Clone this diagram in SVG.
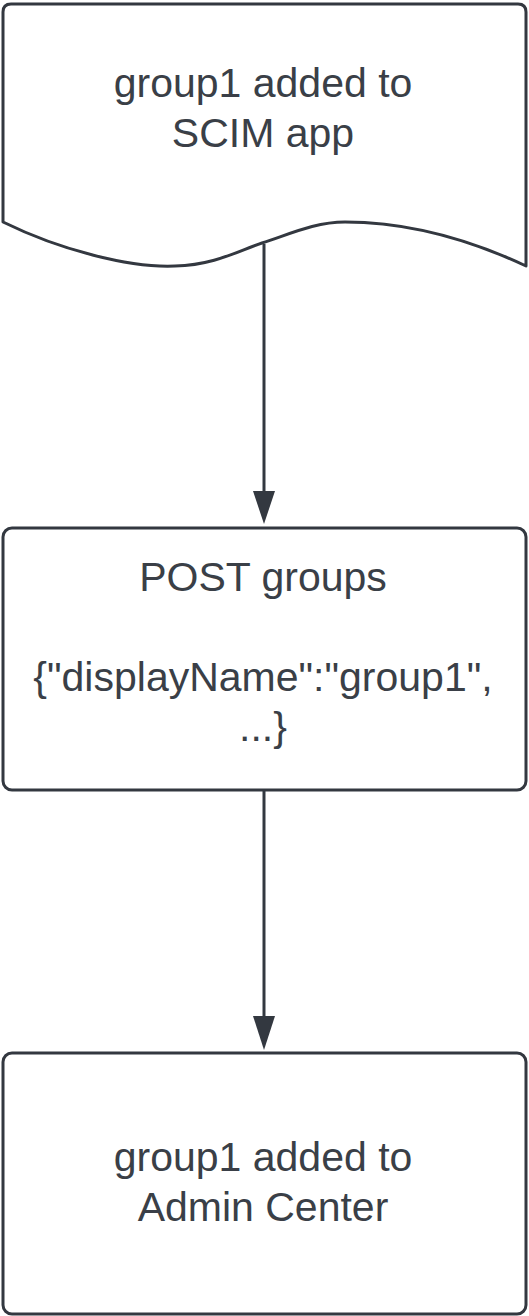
<svg xmlns="http://www.w3.org/2000/svg" width="529" height="1316" viewBox="0 0 529 1316">
<style>
.shape{fill:#ffffff;stroke:#333840;stroke-width:3;stroke-linejoin:round}
.conn{fill:none;stroke:#333840;stroke-width:3}
.head{fill:#333840;stroke:none}
.lbl{font-family:"Liberation Sans",Arial,sans-serif;font-size:41px;fill:#3a3f47;text-anchor:middle}
</style>
<rect width="529" height="1316" fill="#ffffff"/>
<g id="node-scim">
<path class="shape" d="M3,222 L3,12 Q3,4 11,4 L518,4 Q526,4 526,12 L526,266 C460,235 400,222 345,222 C315,222 290,234 262,243 C240,250 215,265 175,266 C130,268 60,250 3,222 Z"/>
<text class="lbl" x="263" y="97">group1 added to</text>
<text class="lbl" x="263" y="147">SCIM app</text>
</g>
<g id="node-post">
<rect class="shape" x="3" y="528" width="523" height="262" rx="9" ry="9"/>
<text class="lbl" x="263" y="591">POST groups</text>
<text class="lbl" x="263" y="691">{"displayName":"group1",</text>
<text class="lbl" x="263" y="741">...}</text>
</g>
<g id="node-admin">
<rect class="shape" x="3" y="1053" width="523" height="261" rx="9" ry="9"/>
<text class="lbl" x="263" y="1171">group1 added to</text>
<text class="lbl" x="263" y="1221">Admin Center</text>
</g>
<g id="connectors">
<line class="conn" x1="264" y1="244" x2="264" y2="494"/>
<polygon class="head" points="253,491 275,491 264,524"/>
<line class="conn" x1="264" y1="790" x2="264" y2="1018"/>
<polygon class="head" points="253,1016 275,1016 264,1050"/>
</g>
</svg>
